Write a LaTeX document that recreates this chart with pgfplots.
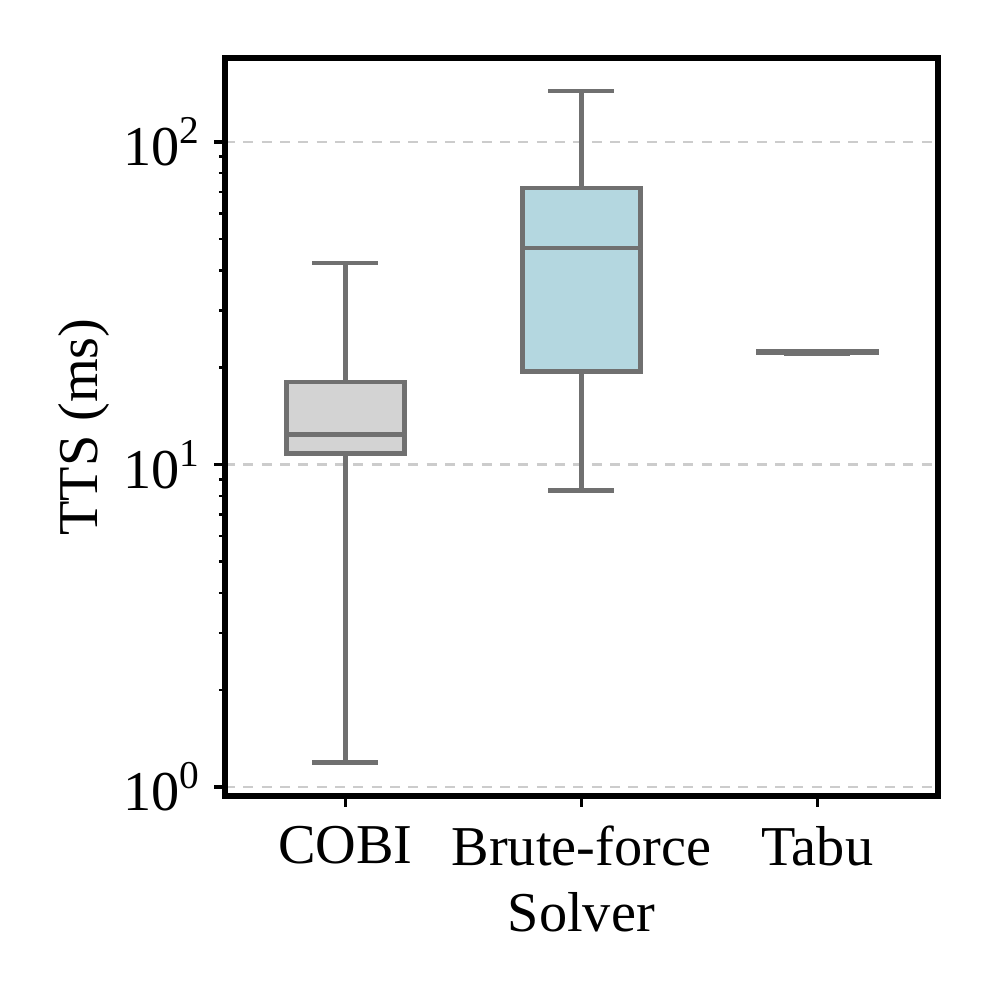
\documentclass[border=0pt]{standalone}
\usepackage{pgfplots}
\pgfplotsset{compat=1.18}
\usepgfplotslibrary{statistics}
\usepackage{fontspec}
\setmainfont{Liberation Serif}
\definecolor{boxgray}{RGB}{112,112,112}
\definecolor{cobifill}{RGB}{211,211,211}
\definecolor{bffill}{RGB}{180,215,224}
\definecolor{gridgray}{RGB}{204,204,204}
\begin{document}
\fontsize{13.5}{15}\selectfont
\begin{tikzpicture}
\path[use as bounding box] (-54pt,-48pt) rectangle (185pt,191pt);
\begin{axis}[
  scale only axis,
  width=171pt, height=177pt,
  ymode=log,
  xmin=-0.51, xmax=2.51,
  ymin=0.938, ymax=182,
  xtick={0,1,2},
  xticklabels={COBI,Brute-force,Tabu},
  ytick={1,10,100},
  yticklabels={10\textsuperscript{0},10\textsuperscript{1},10\textsuperscript{2}},
  minor ytick={2,3,4,5,6,7,8,9,20,30,40,50,60,70,80,90},
  tick align=outside,
  tick pos=left,
  major tick length=2.6pt,
  minor tick length=1.5pt,
  every tick/.style={black, line width=0.8pt},
  minor tick style={line width=0.6pt},
  axis line style={line width=1.4pt},
  ymajorgrids,
  major grid style={gridgray, dash pattern=on 2.4pt off 2pt, line width=0.6pt},
  xlabel={Solver}, ylabel={TTS (ms)},
  ticklabel style={font=\fontsize{13.5}{15}\selectfont},
  yticklabel style={xshift=1.7pt},
  label style={font=\fontsize{13.5}{15}\selectfont},
  xlabel style={yshift=3pt},
  ylabel style={yshift=-5.8pt},
  boxplot/draw direction=y,
  boxplot/box extend=0.5,
  boxplot/whisker extend=0.28,
]
\addplot+[boxplot prepared={draw position=0, lower whisker=1.19, lower quartile=10.8, median=12.4, upper quartile=18.0, upper whisker=42.2},
  draw=boxgray, fill=cobifill, line width=1.1pt, solid, mark=none] coordinates {};
\addplot+[boxplot prepared={draw position=1, lower whisker=8.3, lower quartile=19.4, median=46.9, upper quartile=72, upper whisker=144},
  draw=boxgray, fill=bffill, line width=1.1pt, solid, mark=none] coordinates {};
\addplot+[boxplot prepared={draw position=2, lower whisker=22.1, lower quartile=22.2, median=22.3, upper quartile=22.4, upper whisker=22.5},
  draw=boxgray, fill=cobifill, line width=1.1pt, solid, mark=none] coordinates {};
\end{axis}
\end{tikzpicture}
\end{document}
